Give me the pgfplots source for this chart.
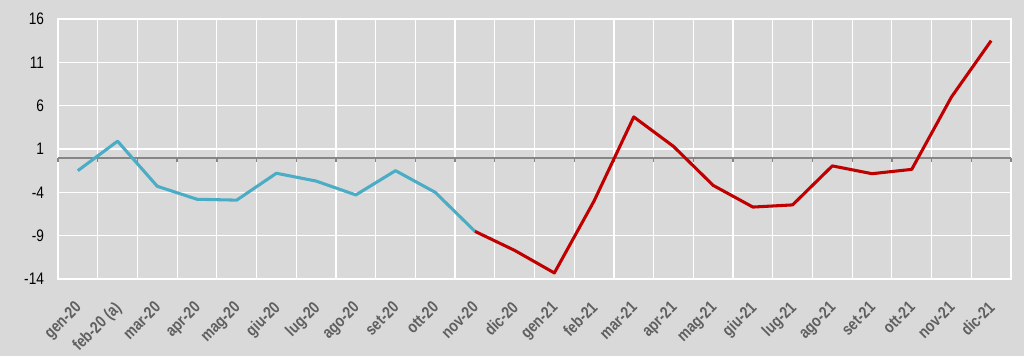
\documentclass[border=0pt]{standalone}
\usepackage{pgfplots}
\pgfplotsset{compat=1.18}
\usepackage{fontspec}
\setmainfont{Liberation Sans}
\newfontfamily\narrowfont[FakeStretch=0.82]{Liberation Sans}
\definecolor{bgcol}{HTML}{D9D9D9}
\definecolor{bluel}{HTML}{4BACC6}
\definecolor{redl}{HTML}{C00000}
\definecolor{zerol}{HTML}{868686}
\definecolor{labgray}{HTML}{5F5F5F}
\begin{document}
\begin{tikzpicture}
\fill[bgcol] (-43.5pt,-57.75pt) rectangle (724.5pt,209.25pt);
\begin{axis}[
  scale only axis,
  width=714.75pt, height=195pt,
  xmin=-0.5, xmax=23.5,
  ymin=-14, ymax=16,
  ytick={-14,-9,-4,1,6,11,16},
  yticklabels={-14,-9,-4,1,6,11,16},
  xtick={0,...,23},
  xticklabels={gen-20,feb-20 (a),mar-20,apr-20,mag-20,giu-20,lug-20,ago-20,set-20,ott-20,nov-20,dic-20,gen-21,feb-21,mar-21,apr-21,mag-21,giu-21,lug-21,ago-21,set-21,ott-21,nov-21,dic-21},
  minor xtick={-0.5,0.5,...,23.5},
  xminorgrids, ymajorgrids,
  major tick length=0pt, minor tick length=0pt,
  grid style={white, line width=0.9pt},
  minor grid style={white, line width=0.9pt},
  axis line style={white, line width=0.9pt},
  axis background/.style={fill=bgcol},
  yticklabel style={black, xshift=-7pt, font=\narrowfont\fontsize{12.5}{14}\selectfont},
  xticklabel style={labgray, xshift=-3pt, yshift=-11pt, rotate=45, anchor=north east, font=\narrowfont\bfseries\fontsize{12.5}{14}\selectfont},
  clip=false,
]
\draw[zerol, line width=1.5pt] (axis cs:-0.5,0) -- (axis cs:23.5,0);
\pgfplotsinvokeforeach{-0.5,0.5,...,23.5}{\draw[zerol, line width=1pt] (axis cs:#1,0) -- ([yshift=-3pt]axis cs:#1,0);}
\addplot[bluel, line width=2.3pt, line join=round] coordinates {
(0,-1.5) (1,1.9) (2,-3.3) (3,-4.8) (4,-4.9) (5,-1.8) (6,-2.7) (7,-4.3) (8,-1.5) (9,-4.0) (10,-8.5)
};
\addplot[redl, line width=2.3pt, line join=round] coordinates {
(10,-8.5) (11,-10.7) (12,-13.3) (13,-5.0) (14,4.7) (15,1.3) (16,-3.2) (17,-5.7) (18,-5.45) (19,-0.95) (20,-1.85) (21,-1.35) (22,7.0) (23,13.5)
};
\end{axis}
\pgfresetboundingbox
\useasboundingbox (-43.5pt,-57.75pt) rectangle (724.5pt,209.25pt);
\end{tikzpicture}
\end{document}
